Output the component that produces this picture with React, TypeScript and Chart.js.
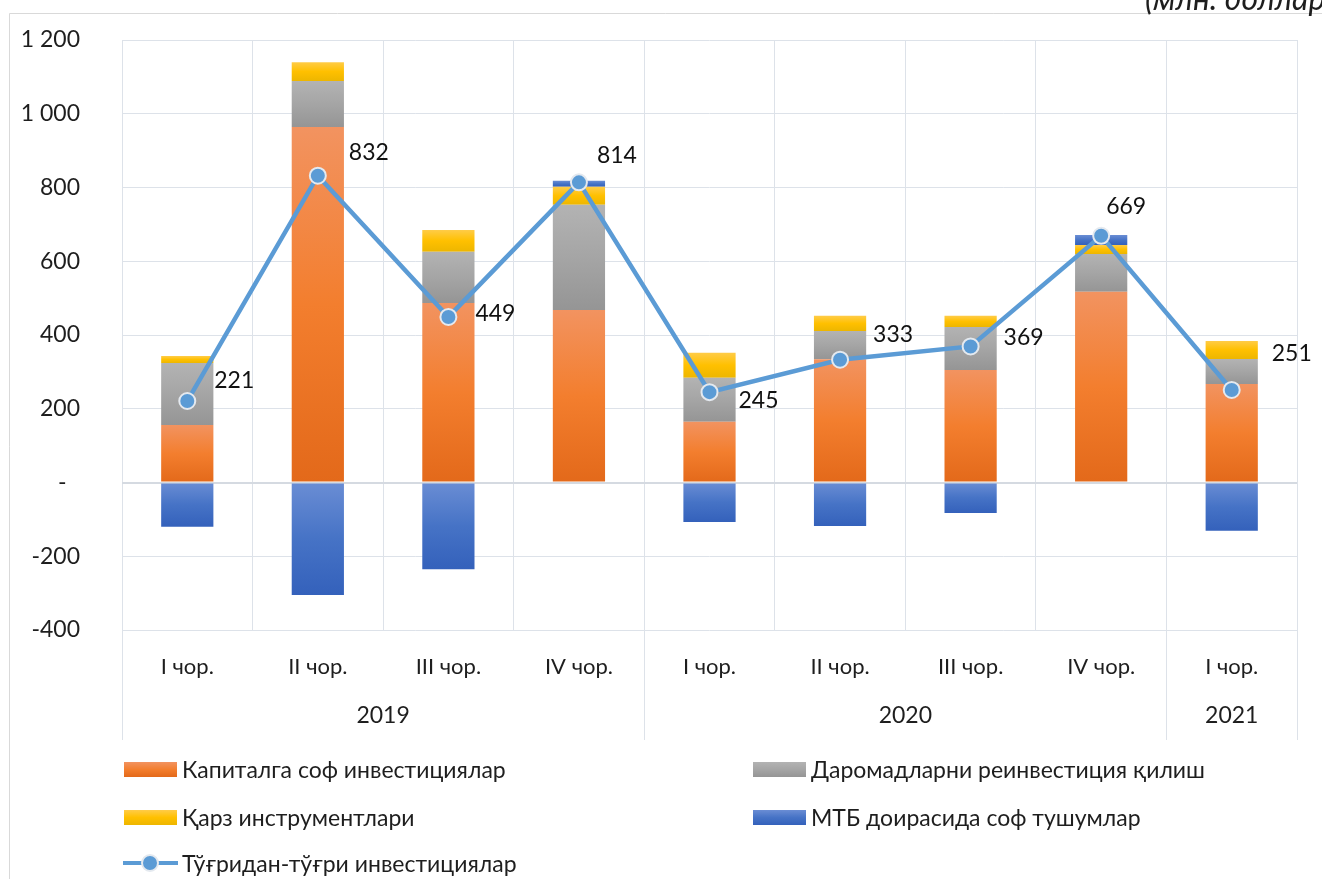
import React, { useEffect, useRef } from 'react';
import { Chart, registerables } from 'chart.js';

Chart.register(...registerables);

// ---------- data ----------
const quarters = ['I чор.', 'II чор.', 'III чор.', 'IV чор.', 'I чор.', 'II чор.', 'III чор.', 'IV чор.', 'I чор.'];
const years = ['2019', '2020', '2021'];
const quartersPerYear = [4, 4, 1];

const capitalInvest = [156, 964, 487, 468, 165, 334, 305, 517, 267];
const reinvestIncome = [168, 125, 139, 285, 119, 77, 117, 103, 68];
const debtInstruments = [19, 51, 59, 49, 68, 41, 30, 24, 49];
const mtbNet = [-120, -305, -235, 16, -107, -118, -83, 27, -131];
const directInvest = [221, 832, 449, 814, 245, 333, 369, 669, 251];

const seriesNames = [
  'Капиталга соф инвестициялар',
  'Даромадларни реинвестиция қилиш',
  'Қарз инструментлари',
  'МТБ доирасида соф тушумлар',
  'Тўғридан-тўғри инвестициялар',
];
const unitLabel = '(млн. доллар)';
const yMin = -400;
const yMax = 1200;
const yStep = 200;

// label nudges (label centre relative to its point)
const labelNudges = [[47, -20], [51, -23], [47, -3], [38, -27], [49, 8], [53, -25], [53, -9], [25, -29], [60, -36]];

// ---------- styles ----------
const FONT = "Lato, 'Noto Sans', 'DejaVu Sans', sans-serif";
const TEXT = '#1E1E1E';
const GRID = '#DDE2E9';
const orangeStops = ['#F29360', '#F37E2E', '#E3691A'];
const grayStops = ['#B3B3B3', '#A5A5A5', '#959595'];
const yellowStops = ['#FFCC48', '#FFC000', '#EDB600'];
const blueStops = ['#6A8DD4', '#4673C6', '#3461BB'];
const lineColor = '#5B9BD5';

const barSeries = [capitalInvest, reinvestIncome, debtInstruments, mtbNet];

function segmentGradient(k: number, stops: string[]) {
  return (c: any) => {
    const chart = c.chart;
    const y = chart.scales && chart.scales.y;
    if (c.type !== 'data' || !y || !chart.chartArea) return stops[1];
    const i = c.dataIndex;
    const v = barSeries[k][i];
    let base = 0;
    for (let j = 0; j < k; j++) {
      const u = barSeries[j][i];
      if ((u >= 0) === (v >= 0)) base += u;
    }
    const p1 = y.getPixelForValue(base);
    const p2 = y.getPixelForValue(base + v);
    const top = Math.min(p1, p2);
    const bot = Math.max(p1, p2);
    if (bot - top < 1) return stops[1];
    const g = chart.ctx.createLinearGradient(0, top, 0, bot);
    stops.forEach((s, n) => g.addColorStop(n / (stops.length - 1), s));
    return g;
  };
}

function fmtTick(v: number) {
  if (v === 0) return '-\u2007';
  const a = Math.abs(v);
  let s = String(a);
  if (a >= 1000) s = s.slice(0, s.length - 3) + ' ' + s.slice(s.length - 3);
  return (v < 0 ? '-' : '') + s;
}

const framePlugin = {
  id: 'frameAndAxis',
  beforeDraw(chart: any) {
    const { ctx, width, height } = chart;
    ctx.save();
    ctx.fillStyle = '#ffffff';
    ctx.fillRect(0, 0, width, height);
    ctx.strokeStyle = '#D9D9D9';
    ctx.lineWidth = 1;
    ctx.beginPath();
    ctx.moveTo(9.5, height);
    ctx.lineTo(9.5, 13.5);
    ctx.lineTo(width, 13.5);
    ctx.stroke();
    ctx.font = `italic 32px ${FONT}`;
    ctx.fillStyle = TEXT;
    ctx.textAlign = 'left';
    ctx.textBaseline = 'alphabetic';
    ctx.fillText(unitLabel, 1145, 10);
    ctx.restore();
  },
  afterDraw(chart: any) {
    const { ctx, chartArea } = chart;
    const xs = chart.scales.x;
    const w = (xs.right - xs.left) / quarters.length;
    ctx.save();
    ctx.fillStyle = TEXT;
    ctx.font = `22px ${FONT}`;
    ctx.textAlign = 'center';
    ctx.textBaseline = 'middle';
    quarters.forEach((q, i) => {
      ctx.fillText(q, xs.getPixelForValue(i), chartArea.bottom + 37);
    });
    ctx.font = `23px ${FONT}`;
    ctx.strokeStyle = GRID;
    ctx.lineWidth = 1;
    let start = 0;
    const bounds = [0];
    years.forEach((yr, k) => {
      const end = start + quartersPerYear[k];
      const cx = xs.left + ((start + end) / 2) * w;
      ctx.fillText(yr, cx, chartArea.bottom + 86);
      bounds.push(end);
      start = end;
    });
    bounds.forEach((b) => {
      const px = Math.round(xs.left + b * w) + 0.5;
      ctx.beginPath();
      ctx.moveTo(px, chartArea.bottom);
      ctx.lineTo(px, chartArea.bottom + 110);
      ctx.stroke();
    });
    ctx.restore();
  },
  afterDatasetsDraw(chart: any) {
    const { ctx } = chart;
    const meta = chart.getDatasetMeta(4);
    ctx.save();
    ctx.fillStyle = '#111111';
    ctx.font = `23px ${FONT}`;
    ctx.textAlign = 'center';
    ctx.textBaseline = 'middle';
    meta.data.forEach((el: any, i: number) => {
      const n = labelNudges[i] || [40, -20];
      ctx.fillText(String(directInvest[i]), el.x + n[0], el.y + n[1]);
    });
    ctx.restore();
  },
};

function swatchStyle(stops: string[]) {
  return {
    position: 'absolute' as const,
    width: 53,
    height: 15,
    background: `linear-gradient(to bottom, ${stops.join(', ')})`,
  };
}

export default function App() {
  const ref = useRef<HTMLCanvasElement>(null);

  useEffect(() => {
    document.body.style.margin = '0';
    Chart.defaults.font.family = FONT;
    const barCommon = {
      type: 'bar' as const,
      stack: 'bars',
      borderWidth: 0,
      barPercentage: 0.4,
      categoryPercentage: 1,
      order: 1,
    };
    const chart = new Chart(ref.current as HTMLCanvasElement, {
      type: 'bar',
      data: {
        labels: quarters,
        datasets: [
          { ...barCommon, label: seriesNames[0], data: capitalInvest, backgroundColor: segmentGradient(0, orangeStops) as any },
          { ...barCommon, label: seriesNames[1], data: reinvestIncome, backgroundColor: segmentGradient(1, grayStops) as any },
          { ...barCommon, label: seriesNames[2], data: debtInstruments, backgroundColor: segmentGradient(2, yellowStops) as any },
          { ...barCommon, label: seriesNames[3], data: mtbNet, backgroundColor: segmentGradient(3, blueStops) as any },
          {
            type: 'line' as const,
            label: seriesNames[4],
            data: directInvest,
            stack: 'line',
            order: 0,
            borderColor: lineColor,
            borderWidth: 4.5,
            pointRadius: 8,
            pointBorderWidth: 2,
            pointBorderColor: '#E4E9EF',
            pointBackgroundColor: lineColor,
            tension: 0,
          } as any,
        ],
      },
      options: {
        responsive: false,
        animation: false,
        events: [],
        layout: { padding: { left: 0, top: 40, right: 25, bottom: 249 } },
        plugins: { legend: { display: false }, tooltip: { enabled: false } },
        scales: {
          x: {
            stacked: true,
            offset: true,
            ticks: { display: false },
            grid: { display: true, offset: true, color: GRID, lineWidth: 1, drawTicks: false },
            border: { display: false },
            afterFit: (s: any) => { s.height = 0; },
          },
          y: {
            stacked: true,
            min: yMin,
            max: yMax,
            ticks: {
              stepSize: yStep,
              padding: 0,
              color: TEXT,
              font: { size: 23, family: FONT },
              callback: (v: any) => fmtTick(Number(v)),
            },
            grid: {
              color: (c: any) => (c.tick && c.tick.value === 0 ? '#D5DAE1' : GRID),
              lineWidth: (c: any) => (c.tick && c.tick.value === 0 ? 2 : 1),
              drawTicks: true,
              tickLength: 42,
              tickColor: 'rgba(0,0,0,0)',
            },
            border: { display: false },
            afterFit: (s: any) => { s.width = 122; },
          },
        },
      },
      plugins: [framePlugin],
    });
    return () => chart.destroy();
  }, []);

  const textStyle = (left: number, top: number) => ({
    position: 'absolute' as const,
    left,
    top,
    fontSize: 23,
    lineHeight: '26px',
    color: TEXT,
    whiteSpace: 'nowrap' as const,
  });

  return (
    <div style={{ position: 'relative', width: 1322, height: 879, overflow: 'hidden', fontFamily: FONT, background: '#fff' }}>
      <canvas ref={ref} width={1322} height={879} style={{ display: 'block' }} />
      <div style={{ ...swatchStyle(orangeStops), left: 124, top: 762 }} />
      <div style={textStyle(182, 756)}>{seriesNames[0]}</div>
      <div style={{ ...swatchStyle(grayStops), left: 753, top: 762 }} />
      <div style={textStyle(811, 756)}>{seriesNames[1]}</div>
      <div style={{ ...swatchStyle(yellowStops), left: 124, top: 810 }} />
      <div style={textStyle(182, 804)}>{seriesNames[2]}</div>
      <div style={{ ...swatchStyle(blueStops), left: 753, top: 810 }} />
      <div style={textStyle(811, 804)}>{seriesNames[3]}</div>
      <div style={{ position: 'absolute', left: 123, top: 861, width: 55, height: 4, background: lineColor }} />
      <div
        style={{
          position: 'absolute',
          left: 141,
          top: 854,
          width: 18,
          height: 18,
          boxSizing: 'border-box',
          borderRadius: '50%',
          background: lineColor,
          border: '2px solid #E4E9EF',
        }}
      />
      <div style={textStyle(182, 850)}>{seriesNames[4]}</div>
    </div>
  );
}
